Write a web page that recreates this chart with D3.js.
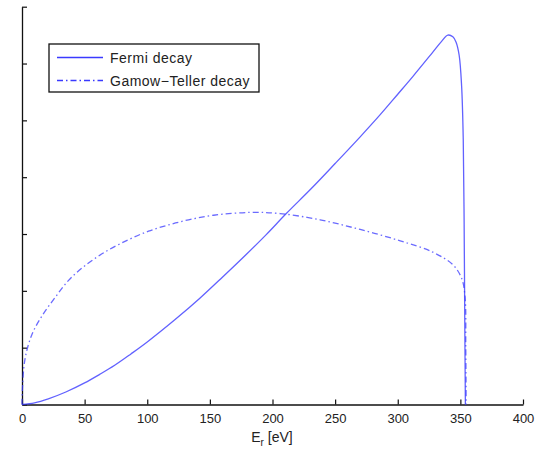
<!DOCTYPE html>
<html>
<head>
<meta charset="utf-8">
<script src="https://cdn.jsdelivr.net/npm/d3@7"></script>
<style>
  body { margin: 0; background: #fff; }
  svg { display: block; font-family: "Liberation Sans", Arial, sans-serif; }
</style>
</head>
<body>
<div id="chart"></div>
<script>
'use strict';

// Fermi decay spectrum (recoil energy in eV, arbitrary units)
var fermiE = [0, 10, 21, 35, 50, 62, 74, 87, 100, 122, 142, 160, 179, 195, 211, 231, 250, 270, 286, 300, 312, 328, 335, 340, 344, 346.5, 349, 351, 352.3, 353, 353.5, 354];
var fermiV = [0, 0.03, 0.10, 0.22, 0.38, 0.53, 0.69, 0.89, 1.10, 1.49, 1.87, 2.24, 2.64, 2.99, 3.36, 3.80, 4.24, 4.71, 5.10, 5.46, 5.77, 6.20, 6.39, 6.50, 6.47, 6.38, 6.15, 5.60, 4.66, 3.20, 1.50, 0];

// Gamow-Teller decay spectrum
var gtE = [0, 0.5, 2.4, 7.7, 15.7, 26, 37, 49.5, 66, 85, 101, 117, 133, 153, 182, 206, 238, 270, 302, 328, 344, 351, 353.7, 354.3, 354.6];
var gtV = [0, 0.35, 0.80, 1.22, 1.55, 1.87, 2.18, 2.43, 2.68, 2.90, 3.05, 3.16, 3.25, 3.33, 3.38, 3.36, 3.25, 3.08, 2.88, 2.68, 2.46, 2.22, 1.90, 1.00, 0];

var xTicks = [0, 50, 100, 150, 200, 250, 300, 350, 400];
var yTicks = [0, 1, 2, 3, 4, 5, 6, 7];
var seriesNames = ["Fermi decay", "Gamow\u2212Teller decay"];

var width = 535, height = 450;
var svg = d3.select("#chart").append("svg")
  .attr("width", width)
  .attr("height", height);

var x = d3.scaleLinear().domain([0, 400]).range([22, 523]);
var y = d3.scaleLinear().domain([0, 7]).range([404.5, 6.7]);

var lineColor = "#3a3aff";

// axes (ticks pointing inward, no y labels)
var xAxis = d3.axisBottom(x).tickValues(xTicks).tickSizeInner(-5).tickSizeOuter(0).tickPadding(9);
var gx = svg.append("g")
  .attr("transform", "translate(0," + y(0) + ")")
  .call(xAxis);
gx.selectAll("text").attr("font-size", 13).attr("fill", "#222");

var yAxis = d3.axisLeft(y).tickValues(yTicks).tickSizeInner(-5).tickSizeOuter(0).tickFormat("");
var gy = svg.append("g")
  .attr("transform", "translate(" + x(0) + ",0)")
  .call(yAxis);

svg.selectAll(".domain").attr("stroke", "#111").attr("stroke-width", 1.3);
svg.selectAll(".tick line").attr("stroke", "#111").attr("stroke-width", 1.2);

// curves
var line = d3.line()
  .x(function(d) { return x(d[0]); })
  .y(function(d) { return y(d[1]); })
  .curve(d3.curveCatmullRom.alpha(0.5));

var fermiData = fermiE.map(function(e, i) { return [e, fermiV[i]]; });
var gtData = gtE.map(function(e, i) { return [e, gtV[i]]; });

svg.append("path")
  .datum(gtData)
  .attr("fill", "none")
  .attr("stroke", lineColor)
  .attr("stroke-opacity", 0.75)
  .attr("stroke-width", 1.3)
  .attr("stroke-dasharray", "6,3,1.5,3")
  .attr("d", line);

svg.append("path")
  .datum(fermiData)
  .attr("fill", "none")
  .attr("stroke", lineColor)
  .attr("stroke-opacity", 0.8)
  .attr("stroke-width", 1.3)
  .attr("d", line);

// x label
var xl = svg.append("text")
  .attr("x", 272)
  .attr("y", 442)
  .attr("text-anchor", "middle")
  .attr("font-size", 14)
  .attr("fill", "#222");
xl.append("tspan").text("E");
xl.append("tspan").attr("font-size", 10).attr("dy", 4).text("r");
xl.append("tspan").attr("dy", -4).text(" [eV]");

// legend
var legend = svg.append("g");
legend.append("rect")
  .attr("x", 49).attr("y", 44)
  .attr("width", 210).attr("height", 48)
  .attr("fill", "#fff")
  .attr("stroke", "#111")
  .attr("stroke-width", 1.3);

var rows = [57.5, 80.5];
seriesNames.forEach(function(name, i) {
  legend.append("line")
    .attr("x1", 57).attr("x2", 103)
    .attr("y1", rows[i]).attr("y2", rows[i])
    .attr("stroke", lineColor)
    .attr("stroke-width", 1.3)
    .attr("stroke-dasharray", i === 1 ? "6,3,1.5,3" : null);
  legend.append("text")
    .attr("x", 110)
    .attr("y", rows[i] + 5)
    .attr("font-size", 14)
    .attr("letter-spacing", 0.5)
    .attr("fill", "#222")
    .text(name);
});
</script>
</body>
</html>
